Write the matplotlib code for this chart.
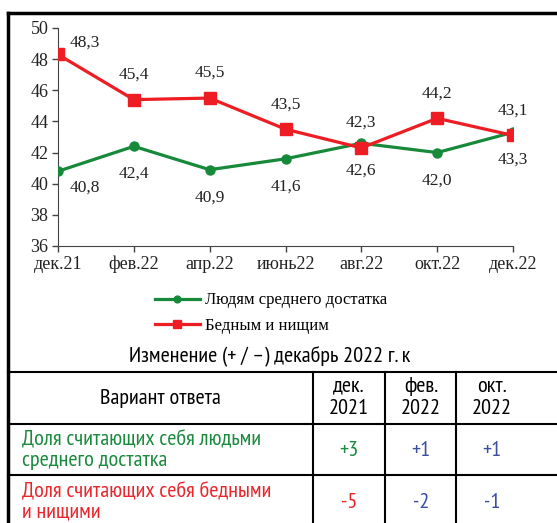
import matplotlib.pyplot as plt
from matplotlib.lines import Line2D
from matplotlib import font_manager

# данные графика
months = ['дек.21', 'фев.22', 'апр.22', 'июнь22', 'авг.22', 'окт.22', 'дек.22']
middle = [40.8, 42.4, 40.9, 41.6, 42.6, 42.0, 43.3]
poor = [48.3, 45.4, 45.5, 43.5, 42.3, 44.2, 43.1]
series_names = ['Людям среднего достатка', 'Бедным и нищим']

# данные таблицы
table_title = 'Изменение (+ / –) декабрь 2022 г. к'
header = ['Вариант ответа', 'дек.\n2021', 'фев.\n2022', 'окт.\n2022']
row_labels = ['Доля считающих себя людьми\nсреднего достатка',
              'Доля считающих себя бедными\nи нищими']
row_values = [['+3', '+1', '+1'], ['-5', '-2', '-1']]

GREEN = '#17893a'
RED = '#ee1d23'
T_GREEN = '#1a8a3e'
T_RED = '#e8262c'
T_BLUE = '#3c4ea2'
SERIF = 'Liberation Serif'

names = {f.name for f in font_manager.fontManager.ttflist}
if 'PT Sans Narrow' in names:
    SANS, TSIZE = 'PT Sans Narrow', 16
else:
    SANS, TSIZE = 'Liberation Sans', 12.3

W, H = 557, 523
fig = plt.figure(figsize=(W / 100, H / 100), dpi=100)


def fx(x):
    return x / W


def fy(y):
    return 1 - y / H


def hline(y, x0, x1, lw=1.5):
    fig.add_artist(Line2D([fx(x0), fx(x1)], [fy(y), fy(y)], color='black', lw=lw,
                          transform=fig.transFigure))


def vline(x, y0, y1, lw=1.5):
    fig.add_artist(Line2D([fx(x), fx(x)], [fy(y0), fy(y1)], color='black', lw=lw,
                          transform=fig.transFigure))


ax = fig.add_axes([fx(58), fy(246), fx(513) - fx(58), fy(28) - fy(246)])
xs = range(len(months))
ax.plot(xs, middle, color=GREEN, lw=2.3, marker='o', ms=6.5, label=series_names[0], zorder=3)
ax.plot(xs, poor, color=RED, lw=2.3, marker='s', ms=8, label=series_names[1], zorder=3)

for i, (g, r) in enumerate(zip(middle, poor)):
    if i == 0:
        dx, dg, dr = 19.5, -12, 8.5
    else:
        dx, dg, dr = 0, -20, 18
    ax.annotate(f'{g:.1f}'.replace('.', ','), (i, g), xytext=(dx, dg), textcoords='offset points',
                ha='center', va='center', fontsize=12.5, family=SERIF, color='#222222')
    ax.annotate(f'{r:.1f}'.replace('.', ','), (i, r), xytext=(dx, dr), textcoords='offset points',
                ha='center', va='center', fontsize=12.5, family=SERIF, color='#222222')

ax.set_xlim(0, len(months) - 1)
ax.set_ylim(36, 50)
ax.set_yticks(range(36, 51, 2))
ax.set_xticks(list(xs))
ax.set_xticklabels(months)
for lab in ax.get_xticklabels() + ax.get_yticklabels():
    lab.set_family(SERIF)
    lab.set_fontsize(13)
    lab.set_color('#222222')
ax.tick_params(direction='out', length=4, width=1, color='#444444', pad=3)
for s in ['top', 'right']:
    ax.spines[s].set_visible(False)
for s in ['left', 'bottom']:
    ax.spines[s].set_color('#444444')
ax.set_facecolor('none')

fig.legend(loc='center', bbox_to_anchor=(fx(271), fy(313)), frameon=False,
           prop={'family': SERIF, 'size': 12}, handlelength=2.7, handletextpad=0.3,
           labelspacing=0.55, markerscale=0.75)

# рамка и таблица
hline(13, 8, W, lw=2.5)
vline(8, 13, H, lw=2.5)
hline(372, 8, W)
hline(424, 8, W)
hline(475, 8, W)
for x in [313, 385, 456]:
    vline(x, 372, H)

fig.text(fx(270), fy(357), table_title, ha='center', va='center', family=SANS, fontsize=TSIZE)
fig.text(fx(160), fy(399), header[0], ha='center', va='center', family=SANS, fontsize=TSIZE)
for x, h in zip([349, 421, 492], header[1:]):
    fig.text(fx(x), fy(397), h, ha='center', va='center', family=SANS, fontsize=TSIZE,
             linespacing=1.2)

row_y = [450, 502]
row_colors = [T_GREEN, T_RED]
for y, lab, vals, c in zip(row_y, row_labels, row_values, row_colors):
    fig.text(fx(22), fy(y), lab, ha='left', va='center', family=SANS, fontsize=TSIZE,
             color=c, linespacing=1.1)
    for j, (x, v) in enumerate(zip([349, 421, 492], vals)):
        fig.text(fx(x), fy(y), v, ha='center', va='center', family=SANS, fontsize=TSIZE,
                 color=c if j == 0 else T_BLUE)

fig.savefig('out.png', dpi=100)
